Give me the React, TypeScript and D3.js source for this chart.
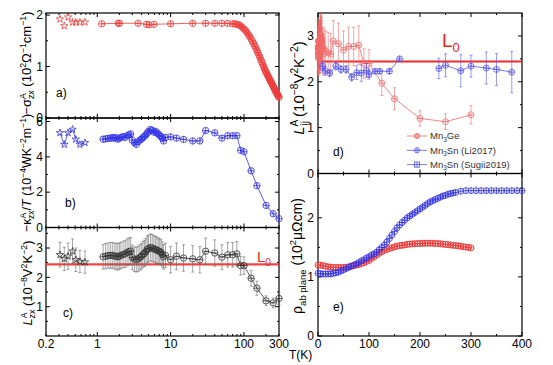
import React, { useEffect, useRef } from 'react';
import * as d3 from 'd3';

const FONT = '"Liberation Sans", Arial, sans-serif';
const RED = '#ee3b3b';
const RED_D = '#f06a6a';
const BLUE = '#3434e6';
const BLUE_D = '#5858ee';
const GREY = '#333333';
const L0 = 2.44;

// low-T data (stars, < 1 K)
const starT = [0.31, 0.355, 0.4, 0.46, 0.51, 0.58, 0.68];
const sigStar = [1.92, 1.79, 1.96, 1.86, 1.86, 1.86, 1.86];
const kapStar = [5.36, 4.7, 5.36, 5.55, 4.99, 4.7, 4.8];
const lorStar = [2.77, 2.63, 2.72, 2.89, 2.6, 2.54, 2.52];
const lorStarErr = [0.42, 0.4, 0.45, 0.42, 0.4, 0.38, 0.38];

// a) -sigma_zx^A
const sigT = [1.15, 1.93, 2.0, 3.6, 4.7, 5.1, 5.9, 10, 20, 30, 40, 50, 60, 70, 75, 80, 85, 90, 95, 100,
  105, 110, 115, 120, 125, 130, 135, 140, 145, 150, 155, 160, 165, 170, 175, 180, 185, 190, 195, 200,
  205, 210, 215, 220, 225, 230, 235, 240, 245, 250, 255, 260, 265, 270, 275, 280, 285, 290, 295, 300];
const sig = [1.83, 1.84, 1.84, 1.84, 1.82, 1.81, 1.82, 1.83, 1.84, 1.84, 1.84, 1.84, 1.84, 1.83, 1.83, 1.82, 1.81, 1.79, 1.76, 1.73,
  1.70, 1.66, 1.62, 1.58, 1.54, 1.49, 1.45, 1.40, 1.36, 1.31, 1.27, 1.22, 1.18, 1.13, 1.09, 1.04, 1.00, 0.96, 0.92, 0.89,
  0.86, 0.83, 0.80, 0.77, 0.74, 0.72, 0.69, 0.67, 0.64, 0.62, 0.59, 0.57, 0.54, 0.52, 0.50, 0.48, 0.46, 0.44, 0.42, 0.40];

// dense sweep 1.2 - 8.5 K and sparse points 10 - 300 K (panels b, c, d)
const lowT = [1.2, 1.3, 1.4, 1.5, 1.6, 1.7, 1.8, 1.9, 2.0, 2.1, 2.25, 2.4, 2.55, 2.7, 2.85, 3.0, 3.2, 3.4, 3.6, 3.8,
  4.0, 4.2, 4.4, 4.6, 4.8, 5.0, 5.3, 5.6, 5.9, 6.2, 6.5, 6.8, 7.1, 7.4, 7.7, 8.0, 8.5];
const sparseT = [10, 12, 15, 20, 25, 30, 40, 50, 60, 70, 80, 90, 100, 125, 150, 200, 250, 300];

// b) -kappa_zx^A / T
const kapLow = [5.0, 5.02, 5.05, 5.05, 5.1, 5.05, 5.1, 5.0, 5.05, 5.1, 5.15, 5.1, 5.2, 5.25, 5.3, 4.95, 4.8, 4.7, 4.85, 4.95,
  5.0, 5.1, 5.15, 5.25, 5.35, 5.45, 5.55, 5.5, 5.4, 5.45, 5.35, 5.3, 5.2, 5.15, 5.05, 4.9, 5.1];
const kapSparse = [5.13, 5.06, 4.99, 4.9, 4.9, 5.49, 5.36, 5.06, 5.2, 5.2, 5.2, 4.37, 4.29, 3.21, 2.37, 1.25, 0.78, 0.5];

// c) / d) Lorenz ratio Mn3Ge
const lorLow = [2.7, 2.72, 2.74, 2.75, 2.75, 2.73, 2.72, 2.7, 2.72, 2.75, 2.78, 2.8, 2.85, 2.88, 2.9, 2.68, 2.62, 2.6, 2.63, 2.68,
  2.72, 2.78, 2.82, 2.88, 2.95, 2.98, 3.02, 3.0, 2.97, 2.95, 2.93, 2.9, 2.88, 2.85, 2.78, 2.7, 2.75];
const lorLowErr = [0.42, 0.43, 0.43, 0.44, 0.44, 0.44, 0.45, 0.45, 0.45, 0.45, 0.45, 0.46, 0.46, 0.46, 0.46, 0.42, 0.42, 0.42, 0.43, 0.43,
  0.44, 0.44, 0.45, 0.45, 0.46, 0.46, 0.46, 0.46, 0.45, 0.45, 0.45, 0.44, 0.44, 0.43, 0.43, 0.42, 0.42];
const lorSparse = [2.6, 2.72, 2.66, 2.63, 2.6, 2.89, 2.83, 2.69, 2.77, 2.77, 2.8, 2.4, 2.4, 1.97, 1.63, 1.2, 1.13, 1.28];
const lorSparseErr = [0.45, 0.45, 0.45, 0.45, 0.45, 0.45, 0.45, 0.42, 0.42, 0.42, 0.42, 0.32, 0.3, 0.27, 0.24, 0.17, 0.17, 0.2];

// d) Mn3Sn
const liT = [9, 14, 23, 35, 45, 55, 66, 76, 85, 95, 100, 112, 121, 140, 160];
const liL = [2.34, 2.24, 2.19, 2.34, 2.27, 2.27, 2.1, 2.2, 2.19, 2.25, 2.16, 2.23, 2.23, 2.23, 2.5];
const liErr = [0.1, 0.1, 0.08, 0.08, 0.08, 0.08, 0.08, 0.15, 0.18, 0.15, 0.1, 0.05, 0.05, 0.05, 0.04];
const sugiT = [237, 250, 280, 300, 330, 350, 380];
const sugiL = [2.29, 2.36, 2.24, 2.34, 2.3, 2.27, 2.21];
const sugiErr = [0.22, 0.25, 0.35, 0.24, 0.35, 0.35, 0.45];

// e) resistivity
const rhoGeT = [0, 5, 10, 15, 20, 25, 30, 35, 40, 45, 50, 55, 60, 65, 70, 75, 80, 85, 90, 95, 100,
  105, 110, 115, 120, 125, 130, 135, 140, 145, 150, 155, 160, 165, 170, 175, 180, 185, 190, 195, 200,
  205, 210, 215, 220, 225, 230, 235, 240, 245, 250, 255, 260, 265, 270, 275, 280, 285, 290, 295, 300];
const rhoGe = [1.20, 1.20, 1.19, 1.18, 1.17, 1.165, 1.16, 1.16, 1.16, 1.16, 1.16, 1.165, 1.17, 1.18, 1.19, 1.20, 1.21, 1.225, 1.24, 1.26, 1.28,
  1.31, 1.34, 1.37, 1.40, 1.425, 1.45, 1.465, 1.48, 1.495, 1.51, 1.52, 1.53, 1.535, 1.54, 1.55, 1.555, 1.56, 1.56, 1.565, 1.565,
  1.57, 1.57, 1.57, 1.57, 1.57, 1.565, 1.565, 1.56, 1.555, 1.55, 1.545, 1.54, 1.535, 1.53, 1.525, 1.52, 1.51, 1.505, 1.50, 1.49];
const rhoSnT = [0, 5, 10, 15, 20, 25, 30, 35, 40, 45, 50, 55, 60, 65, 70, 75, 80, 85, 90, 95, 100,
  105, 110, 115, 120, 125, 130, 135, 140, 145, 150, 155, 160, 165, 170, 175, 180, 185, 190, 195, 200,
  205, 210, 215, 220, 225, 230, 235, 240, 245, 250, 255, 260, 265, 270,
  280, 290, 300, 310, 320, 330, 340, 350, 360, 370, 380, 390, 400];
const rhoSn = [1.06, 1.055, 1.05, 1.05, 1.05, 1.05, 1.06, 1.07, 1.08, 1.10, 1.12, 1.14, 1.16, 1.18, 1.20, 1.22, 1.24, 1.27, 1.29, 1.32, 1.34,
  1.37, 1.39, 1.42, 1.46, 1.50, 1.54, 1.59, 1.65, 1.71, 1.77, 1.83, 1.88, 1.92, 1.96, 2.00, 2.03, 2.06, 2.09, 2.12, 2.15,
  2.18, 2.21, 2.24, 2.27, 2.29, 2.31, 2.33, 2.35, 2.37, 2.38, 2.40, 2.41, 2.42, 2.43,
  2.45, 2.46, 2.46, 2.46, 2.46, 2.46, 2.46, 2.46, 2.46, 2.46, 2.46, 2.46, 2.46];

type G = d3.Selection<SVGGElement, unknown, null, undefined>;
type Run = { t: string; s?: 'sup' | 'sub'; it?: boolean; dx?: number };

function seg(g: G, x1: number, y1: number, x2: number, y2: number, color = '#000', w = 1) {
  g.append('line').attr('x1', x1).attr('y1', y1).attr('x2', x2).attr('y2', y2)
    .attr('stroke', color).attr('stroke-width', w);
}

function rich(g: G, x: number, y: number, runs: Run[], size: number, rotate = 0, anchor = 'start', fill = '#000') {
  const txt = g.append('text')
    .attr('transform', `translate(${x},${y}) rotate(${rotate})`)
    .attr('text-anchor', anchor).attr('font-family', FONT).attr('font-size', size).attr('fill', fill);
  let cur = 0;
  runs.forEach(r => {
    const target = r.s === 'sup' ? -size * 0.42 : r.s === 'sub' ? size * 0.26 : 0;
    const ts = txt.append('tspan').text(r.t).attr('dy', target - cur);
    if (r.s) ts.attr('font-size', size * 0.68);
    if (r.it) ts.attr('font-style', 'italic');
    if (r.dx) ts.attr('dx', r.dx);
    cur = target;
  });
}

function frame(g: G, sx: any, sy: any, xMaj: number[], xMin: number[], yMaj: number[], yMin: number[]) {
  const [x0, x1] = sx.range();
  const [y1, y0] = sy.range();
  g.append('rect').attr('x', x0).attr('y', y0).attr('width', x1 - x0).attr('height', y1 - y0)
    .attr('fill', 'none').attr('stroke', '#000').attr('stroke-width', 1.2);
  const tx = (v: number, len: number) => { const x = sx(v); seg(g, x, y1, x, y1 - len); seg(g, x, y0, x, y0 + len); };
  const ty = (v: number, len: number) => { const y = sy(v); seg(g, x0, y, x0 + len, y); seg(g, x1, y, x1 - len, y); };
  xMaj.forEach(v => tx(v, 4));
  xMin.forEach(v => tx(v, 2));
  yMaj.forEach(v => ty(v, 4));
  yMin.forEach(v => ty(v, 2));
}

function yLabels(g: G, sy: any, vals: number[], x: number) {
  vals.forEach(v => g.append('text').attr('x', x).attr('y', sy(v)).attr('dy', '0.36em')
    .attr('text-anchor', 'end').attr('font-family', FONT).attr('font-size', 12).text(String(v)));
}

function marker(g: G, kind: string, x: number, y: number, r: number, color: string, w = 0.8) {
  if (kind === 'star') {
    g.append('path').attr('d', d3.symbol().type(d3.symbolStar).size(r * r * 1.15)() as string)
      .attr('transform', `translate(${x},${y})`).attr('fill', 'none').attr('stroke', color).attr('stroke-width', w);
    return;
  }
  if (kind === 'splus') {
    g.append('rect').attr('x', x - r).attr('y', y - r).attr('width', 2 * r).attr('height', 2 * r)
      .attr('fill', 'none').attr('stroke', color).attr('stroke-width', w);
  } else {
    g.append('circle').attr('cx', x).attr('cy', y).attr('r', r)
      .attr('fill', kind === 'dot' ? '#f6a0a0' : 'none').attr('stroke', color).attr('stroke-width', w);
  }
  if (kind !== 'dot') seg(g, x - r, y, x + r, y, color, w);
  if (kind === 'oplus' || kind === 'splus') seg(g, x, y - r, x, y + r, color, w);
}

function errBar(g: G, x: number, yLo: number, yHi: number, color: string) {
  seg(g, x, yLo, x, yHi, color, 0.6);
  seg(g, x - 1.5, yLo, x + 1.5, yLo, color, 0.6);
  seg(g, x - 1.5, yHi, x + 1.5, yHi, color, 0.6);
}

function series(g: G, sx: any, sy: any, xs: number[], ys: number[], color: string, kind: string, r: number,
  opts: { line?: boolean; err?: number[]; w?: number; errColor?: string } = {}) {
  if (opts.err) xs.forEach((t, i) => errBar(g, sx(t), sy(ys[i] - opts.err![i]), sy(ys[i] + opts.err![i]), opts.errColor ?? color));
  if (opts.line) {
    const path = d3.line<number>().x((_, i) => sx(xs[i])).y(d => sy(d));
    g.append('path').attr('d', path(ys) as string).attr('fill', 'none').attr('stroke', color).attr('stroke-width', 0.8);
  }
  xs.forEach((t, i) => marker(g, kind, sx(t), sy(ys[i]), r, color, opts.w ?? 0.8));
}

const App: React.FC = () => {
  const svgRef = useRef<SVGSVGElement>(null);

  useEffect(() => {
    if (!svgRef.current) return;
    const svg = d3.select(svgRef.current);
    svg.selectAll('*').remove();
    const g = svg.append('g') as unknown as G;

    // ---------- left column (log T) ----------
    const xLog = d3.scaleLog().domain([0.2, 300]).range([46, 279]);
    const yA = d3.scaleLinear().domain([0, 2.04]).range([118, 13]);
    const yB = d3.scaleLinear().domain([0, 6.2]).range([227.5, 118]);
    const yC = d3.scaleLinear().domain([0, 3.7]).range([336, 227.5]);
    const logMaj = [1, 10, 100];
    const logMin = [0.2, 0.3, 0.4, 0.5, 0.6, 0.7, 0.8, 0.9, 2, 3, 4, 5, 6, 7, 8, 9,
      20, 30, 40, 50, 60, 70, 80, 90, 200, 300];

    frame(g, xLog, yA, logMaj, logMin, [0, 1, 2], [0.5, 1.5]);
    frame(g, xLog, yB, logMaj, logMin, [0, 2, 4, 6], [1, 3, 5]);
    frame(g, xLog, yC, logMaj, logMin, [1, 2, 3], [0.5, 1.5, 2.5, 3.5]);
    yLabels(g, yA, [0, 1, 2], 43);
    yLabels(g, yB, [0, 2, 4, 6], 43);
    yLabels(g, yC, [1, 2, 3], 43);
    [0.2, 1, 10, 100, 300].forEach(v => g.append('text').attr('x', xLog(v)).attr('y', 348)
      .attr('text-anchor', 'middle').attr('font-family', FONT).attr('font-size', 12).text(String(v)));

    // a)
    series(g, xLog, yA, sigT, sig, RED, 'oplus', 3.2, { line: true });
    series(g, xLog, yA, starT, sigStar, RED, 'star', 3.8);
    // b)
    const kT = [...lowT, ...sparseT];
    series(g, xLog, yB, kT, [...kapLow, ...kapSparse], BLUE, 'oplus', 3.2, { line: true });
    series(g, xLog, yB, starT, kapStar, BLUE, 'star', 3.8, { line: true });
    // c)
    g.append('line').attr('x1', 46).attr('x2', 279).attr('y1', yC(L0)).attr('y2', yC(L0))
      .attr('stroke', '#f04444').attr('stroke-width', 2.2);
    series(g, xLog, yC, kT, [...lorLow, ...lorSparse], GREY, 'ominus', 3.2,
      { line: true, err: [...lorLowErr, ...lorSparseErr], errColor: '#666' });
    series(g, xLog, yC, starT, lorStar, GREY, 'star', 3.8, { err: lorStarErr, errColor: '#666' });
    rich(g, 257, 262, [{ t: 'L' }, { t: '0', s: 'sub' }], 15, 0, 'start', '#e82a2a');

    rich(g, 56, 97, [{ t: 'a)' }], 12);
    rich(g, 65, 207, [{ t: 'b)' }], 12);
    rich(g, 63, 317, [{ t: 'c)' }], 12);

    rich(g, 31, 63, [{ t: '−σ' }, { t: 'A', s: 'sup' }, { t: 'zx', s: 'sub', dx: -6 }, { t: ' (10' }, { t: '2', s: 'sup' },
      { t: 'Ω' }, { t: '−1', s: 'sup' }, { t: 'cm' }, { t: '−1', s: 'sup' }, { t: ')' }], 13, -90, 'middle');
    rich(g, 31, 173, [{ t: '−κ' }, { t: 'A', s: 'sup' }, { t: 'zx', s: 'sub', dx: -6 }, { t: '/' }, { t: 'T', it: true },
      { t: ' (10' }, { t: '−4', s: 'sup' }, { t: 'WK' }, { t: '−2', s: 'sup' }, { t: 'm' }, { t: '−1', s: 'sup' }, { t: ')' }], 12.5, -90, 'middle');
    rich(g, 32, 283, [{ t: 'L', it: true }, { t: 'A', s: 'sup' }, { t: 'zx', s: 'sub', dx: -6 }, { t: ' (10' }, { t: '−8', s: 'sup' },
      { t: 'V' }, { t: '2', s: 'sup' }, { t: 'K' }, { t: '−2', s: 'sup' }, { t: ')' }], 13, -90, 'middle');

    // ---------- right column (linear T) ----------
    const xLin = d3.scaleLinear().domain([0, 400]).range([318, 522]);
    const yD = d3.scaleLinear().domain([0, 3.5]).range([173.5, 13]);
    const yE = d3.scaleLinear().domain([0, 2.75]).range([336, 173.5]);
    frame(g, xLin, yD, [0, 100, 200, 300, 400], [50, 150, 250, 350], [0, 1, 2, 3], [0.5, 1.5, 2.5]);
    frame(g, xLin, yE, [0, 100, 200, 300, 400], [50, 150, 250, 350], [0, 1, 2], [0.5, 1.5, 2.5]);
    yLabels(g, yD, [0, 1, 2, 3], 314);
    yLabels(g, yE, [0, 1, 2], 314);
    [0, 100, 200, 300, 400].forEach(v => g.append('text').attr('x', xLin(v)).attr('y', 348)
      .attr('text-anchor', 'middle').attr('font-family', FONT).attr('font-size', 12).text(String(v)));

    // d)
    g.append('line').attr('x1', 318).attr('x2', 522).attr('y1', yD(L0)).attr('y2', yD(L0))
      .attr('stroke', '#ee2a2a').attr('stroke-width', 2);
    series(g, xLin, yD, [...starT, ...lowT, ...sparseT], [...lorStar, ...lorLow, ...lorSparse], RED_D, 'ominus', 3,
      { line: true, err: [...lorStarErr, ...lorLowErr, ...lorSparseErr] });
    series(g, xLin, yD, liT, liL, BLUE_D, 'oplus', 3, { line: true, err: liErr });
    series(g, xLin, yD, sugiT, sugiL, BLUE_D, 'oplus', 3, { line: true, err: sugiErr });
    rich(g, 442, 47, [{ t: 'L' }, { t: '0', s: 'sub' }], 19, 0, 'start', '#ee2020');
    rich(g, 333, 156, [{ t: 'd)' }], 12);

    const legend = [
      { runs: [{ t: 'Mn' }, { t: '3', s: 'sub' as const }, { t: 'Ge' }], color: RED_D, kind: 'dot' },
      { runs: [{ t: 'Mn' }, { t: '3', s: 'sub' as const }, { t: 'Sn (Li2017)' }], color: BLUE_D, kind: 'oplus' },
      { runs: [{ t: 'Mn' }, { t: '3', s: 'sub' as const }, { t: 'Sn (Sugii2019)' }], color: BLUE_D, kind: 'splus' },
    ];
    legend.forEach((l, i) => {
      const y = 136 + i * 14.3;
      seg(g, 407, y, 427, y, l.color, 0.8);
      marker(g, l.kind, 417, y, 2.6, l.color);
      rich(g, 430, y + 3.3, l.runs, 9.5, 0, 'start', '#333');
    });

    rich(g, 304, 88, [{ t: 'L', it: true }, { t: 'A', s: 'sup' }, { t: 'ij', s: 'sub', dx: -6 }, { t: ' (10' }, { t: '−8', s: 'sup' },
      { t: 'V' }, { t: '2', s: 'sup' }, { t: 'K' }, { t: '−2', s: 'sup' }, { t: ')' }], 15, -90, 'middle');

    // e)
    series(g, xLin, yE, rhoGeT, rhoGe, RED, 'oplus', 3, { w: 0.9 });
    series(g, xLin, yE, rhoSnT, rhoSn, BLUE, 'oplus', 3, { w: 0.8 });
    rich(g, 333, 311, [{ t: 'e)' }], 12);
    rich(g, 302, 256, [{ t: 'ρ' }, { t: 'ab plane', s: 'sub' }, { t: ' (10' }, { t: '2', s: 'sup' }, { t: 'μΩcm)' }], 14, -90, 'middle');

    rich(g, 289, 359, [{ t: 'T(K)' }], 12, 0, 'start');
  }, []);

  return (
    <svg ref={svgRef} width={553} height={365} viewBox="0 0 553 365"
      style={{ position: 'absolute', left: 0, top: 0, background: '#fff' }} />
  );
};

export default App;
